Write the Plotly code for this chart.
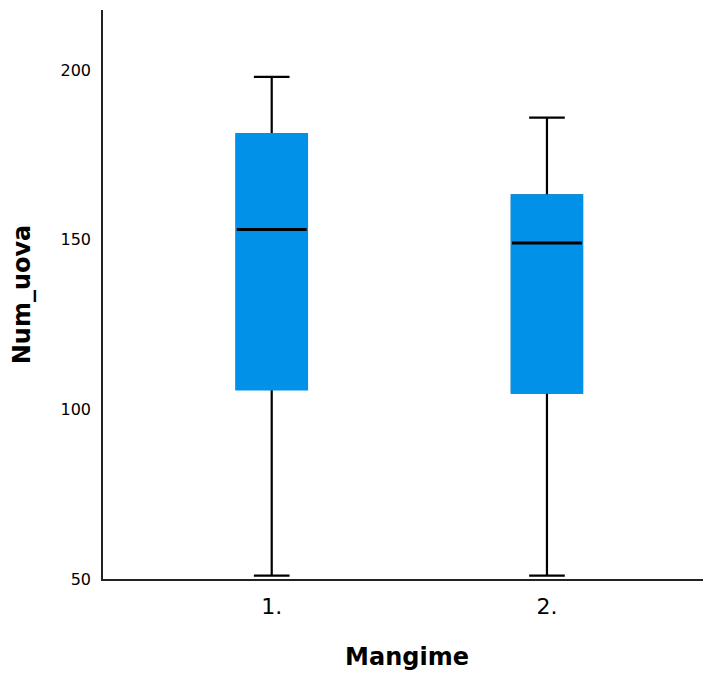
import plotly.graph_objects as go

categories = ["1.", "2."]
lower_whisker = [51, 51]
q1_values = [106, 105]
median_values = [153, 149]
q3_values = [181, 163]
upper_whisker = [198, 186]

y_ticks = [50, 100, 150, 200]

BLUE = "rgb(2,145,233)"
BOX_W = 0.254

fig = go.Figure()

# Layer 1: full box with black whiskers
fig.add_trace(go.Box(
    x=categories, q1=q1_values, median=median_values, q3=q3_values,
    lowerfence=lower_whisker, upperfence=upper_whisker,
    fillcolor=BLUE, line=dict(color="black", width=2.2),
    width=BOX_W, whiskerwidth=0.51, boxpoints=False,
    hoverinfo="skip", showlegend=False,
))
# Layer 2: blue box body hiding the black outline
fig.add_trace(go.Box(
    x=categories, q1=q1_values, median=median_values, q3=q3_values,
    lowerfence=q1_values, upperfence=q3_values,
    fillcolor=BLUE, line=dict(color=BLUE, width=2.8),
    width=BOX_W, whiskerwidth=0, boxpoints=False,
    hoverinfo="skip", showlegend=False,
))
# Layer 3: black median line
fig.add_trace(go.Box(
    x=categories, q1=median_values, median=median_values, q3=median_values,
    lowerfence=median_values, upperfence=median_values,
    fillcolor="rgba(0,0,0,0)", line=dict(color="black", width=3),
    width=BOX_W, whiskerwidth=0, boxpoints=False,
    hoverinfo="skip", showlegend=False,
))

fig.update_layout(
    width=703, height=667,
    margin=dict(l=95, r=0, t=2, b=96),
    paper_bgcolor="white", plot_bgcolor="white",
    boxmode="overlay",
    font=dict(family="DejaVu Sans", color="black"),
)
fig.update_xaxes(
    type="category", categoryorder="array", categoryarray=categories,
    range=[-0.613, 1.596], automargin=False,
    showgrid=False, zeroline=False,
    showline=True, linecolor="#222", linewidth=1.5,
    ticks="", ticklabelstandoff=7,
    tickfont=dict(size=22, family="DejaVu Sans", color="black"),
    title=dict(text="<b>Mangime</b>", font=dict(size=24, family="DejaVu Sans", color="black"), standoff=30),
)
fig.update_yaxes(
    range=[50, 217.7], automargin=False,
    tickvals=y_ticks, ticktext=[str(v) for v in y_ticks],
    showgrid=False, zeroline=False,
    showline=True, linecolor="#222", linewidth=1.5,
    ticks="", ticklabelstandoff=7,
    tickfont=dict(size=16, family="DejaVu Sans", color="black"),
    title=dict(text="<b>Num_uova</b>", font=dict(size=24, family="DejaVu Sans", color="black"), standoff=23),
)

fig.write_html("out.html")
